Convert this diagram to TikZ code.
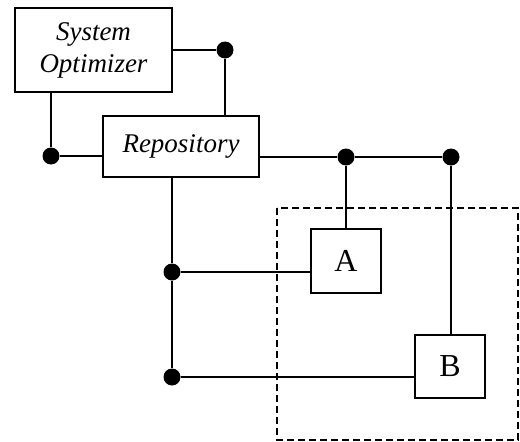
\documentclass[tikz,border=0pt]{standalone}
\usepackage{fontspec}
\setmainfont{Liberation Serif}
\usetikzlibrary{positioning}
\tikzset{
  unit/.style={draw,line width=2pt,align=center,inner sep=0pt,
    font=\fontsize{27}{32}\selectfont\itshape},
  part/.style={draw,line width=2pt,inner sep=0pt,
    minimum width=70pt,minimum height=64pt,font=\fontsize{32}{32}\selectfont},
  joint/.style={circle,fill=black,inner sep=0pt,minimum size=17pt},
  wire/.style={line width=2pt},
  zone/.style={line width=2pt,dash pattern=on 7pt off 4pt},
}
\begin{document}
\begin{tikzpicture}[x=1pt,y=-1pt]
  \useasboundingbox (0,0) rectangle (520,442);
  % dashed region
  \draw[zone] (277,208) rectangle (518,440);
  % boxes
  \node[unit,minimum width=157pt,minimum height=84pt] (opt) at (93.5,50) {System\\Optimizer};
  \node[unit,minimum width=156pt,minimum height=61pt] (repo) at (181,146.5) {Repository};
  \node[part] (a) at (346,261) {A};
  \node[part,minimum height=63pt] (b) at (450,366.5) {B};
  % junctions
  \node[joint] (j1) at (225,50) {};
  \node[joint] (j2) at (51,156) {};
  \node[joint] (j3) at (346,157) {};
  \node[joint] (j4) at (451,157) {};
  \node[joint] (j5) at (172,272) {};
  \node[joint] (j6) at (172,377) {};
  % wires
  \draw[wire] (opt.east) -- (j1) -- (j1 |- repo.north);
  \draw[wire] (opt.south -| j2) -- (j2) -- (j2 -| repo.west);
  \draw[wire] (j3 -| repo.east) -- (j3) -- (j4);
  \draw[wire] (j3) -- (j3 |- a.north);
  \draw[wire] (j4) -- (j4 |- b.north);
  \draw[wire] (j5 |- repo.south) -- (j5) -- (j6);
  \draw[wire] (j5) -- (j5 -| a.west);
  \draw[wire] (j6) -- (j6 -| b.west);
\end{tikzpicture}
\end{document}
